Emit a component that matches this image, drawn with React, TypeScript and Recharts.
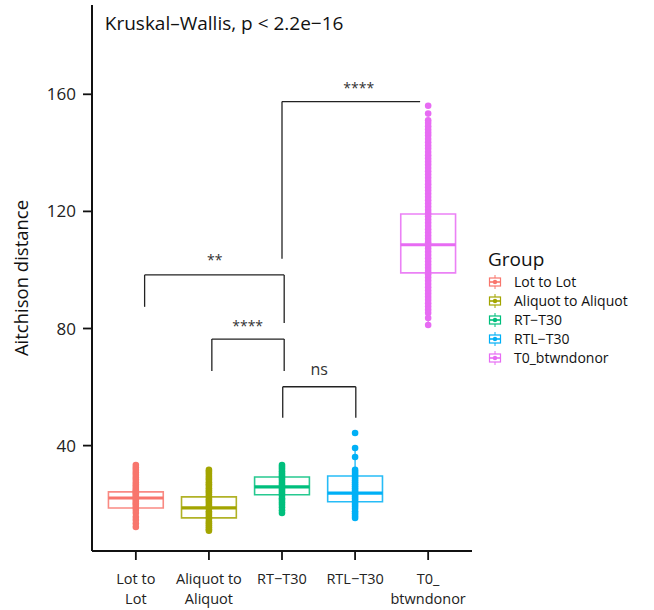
import { ScatterChart, Scatter, XAxis, YAxis, ReferenceArea, ReferenceLine, Legend } from 'recharts';

const FONT = '"Open Sans", "DejaVu Sans", sans-serif';

const groups = ['Lot to Lot', 'Aliquot to Aliquot', 'RT−T30', 'RTL−T30', 'T0_btwndonor'];
const tickLines = [['Lot to', 'Lot'], ['Aliquot to', 'Aliquot'], ['RT−T30'], ['RTL−T30'], ['T0_', 'btwndonor']];
const colors = ['#F8766D', '#A3A500', '#00BF7D', '#00B0F6', '#E76BF3'];

// distances per group
const lotToLot = [33.4, 32.5, 31.7, 30.8, 30.0, 29.1, 28.3, 27.4, 26.6, 25.9, 25.2, 24.6, 24.2, 23.7, 23.2, 22.6, 22.1, 21.5, 20.8, 20.2, 19.7, 18.9, 18.0, 17.0, 15.6, 14.6, 13.4, 12.2];
const aliquotToAliquot = [31.7, 31.1, 30.4, 29.6, 28.9, 28.3, 27.5, 26.8, 26.2, 25.4, 24.7, 24.1, 23.3, 22.6, 21.8, 21.2, 20.5, 19.7, 19.1, 18.4, 17.6, 17.0, 16.3, 15.5, 14.9, 14.1, 13.5, 12.8, 12.1, 11.4, 10.9];
const rtT30 = [33.4, 32.7, 32.0, 31.2, 30.5, 29.8, 29.1, 28.4, 27.6, 26.9, 26.2, 25.6, 25.0, 24.3, 23.6, 22.9, 22.0, 21.4, 20.6, 19.8, 18.9, 17.9, 17.0];
const rtlT30 = [44.3, 39.2, 36.1, 31.7, 31.0, 30.3, 29.6, 28.9, 28.2, 27.5, 26.8, 26.1, 25.4, 24.7, 24.0, 23.3, 22.6, 21.9, 21.2, 20.5, 19.8, 19.1, 18.4, 17.6, 16.8, 16.0, 15.3];
const t0Btwndonor = [
  156.1, 153.4, 151.1, 150.2, 149.1, 148.0, 146.9, 145.9, 144.7, 143.6, 142.5, 141.5, 140.3, 139.2, 138.1,
  137.0, 135.9, 134.8, 133.7, 132.6, 131.5, 130.4, 129.3, 128.2, 127.1, 126.0, 124.9, 123.8, 122.7, 121.6,
  120.5, 119.4, 118.3, 117.2, 116.1, 115.0, 113.9, 112.8, 111.7, 110.6, 109.5, 108.4, 107.3, 106.2, 105.1,
  104.0, 102.9, 101.8, 100.7, 99.6, 98.5, 97.4, 96.3, 95.2, 94.1, 93.0, 91.9, 90.8, 89.7, 88.6, 87.5, 86.4,
  85.3, 83.6, 81.2,
];
const groupPoints = [lotToLot, aliquotToAliquot, rtT30, rtlT30, t0Btwndonor];

// box statistics
const q1 = [18.7, 15.3, 23.2, 20.8, 99.0];
const median = [22.1, 18.7, 25.9, 23.8, 108.6];
const q3 = [24.2, 22.5, 29.3, 29.6, 119.1];
const whiskerLo = [12.2, 10.9, 17.0, 15.3, 81.2];
const whiskerHi = [31.7, 31.7, 33.4, 39.2, 149.1];

// pairwise comparisons: [x1, x2, bar height, left tip end, right tip end]
const brackets = [
  [3.0, 4.89, 157.5, 103.8, 157.5],
  [1.12, 3.03, 98.3, 87.4, 81.9],
  [2.04, 3.03, 76.4, 65.5, 65.5],
  [3.01, 4.01, 60.1, 49.5, 49.5],
];
const annotations = [
  { x: 4.05, y: 160.5, text: '****', kind: 'sig' },
  { x: 2.08, y: 101.8, text: '**', kind: 'sig' },
  { x: 2.53, y: 79.2, text: '****', kind: 'sig' },
  { x: 3.51, y: 64.2, text: 'ns', kind: 'ns' },
  { x: 0.575, y: 181.8, text: 'Kruskal–Wallis, p < 2.2e−16', kind: 'title' },
];

const BOX_HALF = 0.375;

function XTick(props: any) {
  const { x, y, payload } = props;
  const lines = tickLines[Math.round(payload.value) - 1] || [];
  return (
    <text x={x} y={y} textAnchor="middle" fontSize={14.5} fill="#222" fontFamily={FONT}>
      {lines.map((l, k) => (
        <tspan key={k} x={x} dy={k === 0 ? 22 : 20}>{l}</tspan>
      ))}
    </text>
  );
}

function AnnotationShape(props: any) {
  const { cx, cy, payload } = props;
  if (payload.kind === 'title') {
    return <text x={cx} y={cy} fontSize={19} fill="#111" fontFamily={FONT}>{payload.text}</text>;
  }
  return (
    <text x={cx} y={cy} textAnchor="middle" fontSize={payload.kind === 'ns' ? 16 : 14} fill="#333" fontFamily={FONT}>
      {payload.text}
    </text>
  );
}

function LegendKey({ color }: { color: string }) {
  return (
    <svg width={14} height={14} style={{ display: 'block' }}>
      <line x1={7} y1={0} x2={7} y2={14} stroke={color} strokeWidth={1} />
      <rect x={1.5} y={3} width={11} height={8} fill="white" stroke={color} strokeWidth={1.2} />
      <line x1={1.5} y1={7} x2={12.5} y2={7} stroke={color} strokeWidth={1.6} />
      <circle cx={7} cy={7} r={2.2} fill={color} />
    </svg>
  );
}

function GroupLegend() {
  return (
    <div style={{ fontFamily: FONT, color: '#111' }}>
      <div style={{ fontSize: 19, lineHeight: '22px', marginBottom: 2 }}>Group</div>
      {groups.map((g, i) => (
        <div key={g} style={{ display: 'flex', alignItems: 'center', height: 19 }}>
          <LegendKey color={colors[i]} />
          <span style={{ marginLeft: 12, fontSize: 14, lineHeight: '19px', whiteSpace: 'nowrap' }}>{g}</span>
        </div>
      ))}
    </div>
  );
}

export default function App() {
  return (
    <div style={{ position: 'absolute', left: 0, top: 0, width: 654, height: 610, background: 'white' }}>
      <ScatterChart width={654} height={610} margin={{ top: 5, right: 182, bottom: 0, left: 0 }}>
        <XAxis
          type="number"
          dataKey="x"
          domain={[0.4, 5.6]}
          ticks={[1, 2, 3, 4, 5]}
          height={59}
          tickSize={9}
          tickMargin={2}
          tick={<XTick />}
          axisLine={{ stroke: '#111', strokeWidth: 2 }}
          tickLine={{ stroke: '#111', strokeWidth: 1.8 }}
          allowDataOverflow
        />
        <YAxis
          type="number"
          dataKey="y"
          domain={[4, 190.5]}
          ticks={[40, 80, 120, 160]}
          width={92}
          tickSize={9}
          tickMargin={7}
          tick={{ fontSize: 17, fill: '#222', fontFamily: FONT }}
          axisLine={{ stroke: '#111', strokeWidth: 2 }}
          tickLine={{ stroke: '#111', strokeWidth: 1.8 }}
          allowDataOverflow
          label={({ viewBox }: any) => (
            <text
              x={20}
              y={viewBox.y + viewBox.height / 2}
              transform={`rotate(-90, 20, ${viewBox.y + viewBox.height / 2})`}
              textAnchor="middle"
              dominantBaseline="central"
              fontSize={18.5}
              fill="#111"
              fontFamily={FONT}
            >
              Aitchison distance
            </text>
          )}
        />
        {groups.map((g, i) => (
          <ReferenceLine
            key={`wh-${g}`}
            segment={[{ x: i + 1, y: q3[i] }, { x: i + 1, y: whiskerHi[i] }]}
            stroke={colors[i]}
            strokeWidth={1.2}
          />
        ))}
        {groups.map((g, i) => (
          <ReferenceLine
            key={`wl-${g}`}
            segment={[{ x: i + 1, y: q1[i] }, { x: i + 1, y: whiskerLo[i] }]}
            stroke={colors[i]}
            strokeWidth={1.2}
          />
        ))}
        {groups.map((g, i) => (
          <ReferenceArea
            key={`box-${g}`}
            x1={i + 1 - BOX_HALF}
            x2={i + 1 + BOX_HALF}
            y1={q1[i]}
            y2={q3[i]}
            fill="none"
            fillOpacity={0}
            stroke={colors[i]}
            strokeOpacity={0.85}
            strokeWidth={1.6}
          />
        ))}
        {groups.map((g, i) => (
          <ReferenceLine
            key={`med-${g}`}
            segment={[{ x: i + 1 - BOX_HALF, y: median[i] }, { x: i + 1 + BOX_HALF, y: median[i] }]}
            stroke={colors[i]}
            strokeWidth={3.2}
          />
        ))}
        {brackets.map((b, k) => (
          <ReferenceLine key={`bt-${k}`} segment={[{ x: b[0], y: b[2] }, { x: b[1], y: b[2] }]} stroke="#222" strokeWidth={1.3} />
        ))}
        {brackets.map((b, k) => (
          <ReferenceLine key={`bl-${k}`} segment={[{ x: b[0], y: b[2] }, { x: b[0], y: b[3] }]} stroke="#222" strokeWidth={1.3} />
        ))}
        {brackets.map((b, k) => (
          <ReferenceLine key={`br-${k}`} segment={[{ x: b[1], y: b[2] }, { x: b[1], y: b[4] }]} stroke="#222" strokeWidth={1.3} />
        ))}
        {groups.map((g, i) => (
          <Scatter
            key={g}
            name={g}
            data={groupPoints[i].map((v) => ({ x: i + 1, y: v }))}
            fill={colors[i]}
            isAnimationActive={false}
            shape={(p: any) => <circle cx={p.cx} cy={p.cy} r={3.3} fill={colors[i]} />}
          />
        ))}
        <Scatter
          name="annotations"
          data={annotations}
          legendType="none"
          isAnimationActive={false}
          shape={(p: any) => <AnnotationShape {...p} />}
        />
        <Legend
          layout="horizontal"
          verticalAlign="middle"
          align="center"
          content={() => <GroupLegend />}
          wrapperStyle={{ left: 488, top: 248, width: 166, height: 'auto' }}
        />
      </ScatterChart>
    </div>
  );
}
